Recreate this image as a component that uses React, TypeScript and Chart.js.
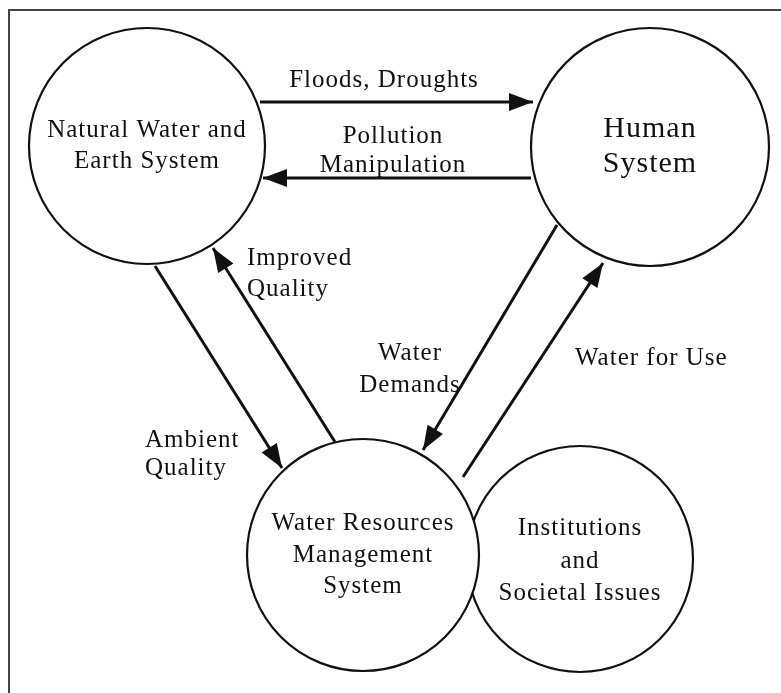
import React, { useEffect, useRef } from "react";
import { Chart, registerables } from "chart.js";

Chart.register(...registerables);

const W = 781;
const H = 693;

// Nodes (circles) — drawn in this order (Institutions first so Water Resources overlaps it)
const nodeNames = [
  "Natural Water and\nEarth System",
  "Human\nSystem",
  "Institutions\nand\nSocietal Issues",
  "Water Resources\nManagement\nSystem",
];
const nodeX = [147, 650, 580, 363];
const nodeY = [146, 147, 559, 555];
const nodeR = [118, 119, 113, 116];
const nodeTextY = [137, 137, 535, 530]; // first baseline
const nodeLineGap = [31, 35, 32.5, 31.5];
const nodeFontSize = [25, 30, 25, 25];

// Flows (arrows): from -> to
const flowNames = [
  "Floods, Droughts",
  "Pollution\nManipulation",
  "Ambient\nQuality",
  "Improved\nQuality",
  "Water\nDemands",
  "Water for Use",
];
const flowFromX = [260, 531, 155, 335, 557, 463];
const flowFromY = [102, 178, 266, 442, 225, 477];
const flowToX = [533, 263, 282, 213, 423, 603];
const flowToY = [102, 178, 468, 248, 450, 263];
const flowLabelX = [384, 393, 145, 247, 410, 575];
const flowLabelY = [87, 143, 447, 265, 360, 365];
const flowLabelAlign = ["center", "center", "left", "left", "center", "left"];
const flowLabelGap = [0, 29, 28, 31, 32, 0];

// Frame (left + top edge)
const frameX = [9, 9, 781];
const frameY = [693, 10, 10];

const FONT = "'Liberation Serif', 'Times New Roman', Times, serif";
const INK = "#111";

const arrowPlugin = {
  id: "arrowHeads",
  afterDatasetsDraw(chart: any) {
    const ctx = chart.ctx;
    chart.data.datasets.forEach((ds: any, i: number) => {
      if (!ds.isArrow) return;
      const meta = chart.getDatasetMeta(i);
      const pts = meta.data;
      if (pts.length < 2) return;
      const a = pts[pts.length - 2];
      const b = pts[pts.length - 1];
      const ang = Math.atan2(b.y - a.y, b.x - a.x);
      const len = 24;
      const half = 9;
      ctx.save();
      ctx.fillStyle = INK;
      ctx.beginPath();
      ctx.moveTo(b.x, b.y);
      const bx = b.x - len * Math.cos(ang);
      const by = b.y - len * Math.sin(ang);
      ctx.lineTo(bx + half * Math.cos(ang + Math.PI / 2), by + half * Math.sin(ang + Math.PI / 2));
      ctx.lineTo(bx - half * Math.cos(ang + Math.PI / 2), by - half * Math.sin(ang + Math.PI / 2));
      ctx.closePath();
      ctx.fill();
      ctx.restore();
    });
  },
};

const textPlugin = {
  id: "diagramText",
  afterDraw(chart: any) {
    const ctx = chart.ctx;
    const xs = chart.scales.x;
    const ys = chart.scales.y;
    const drawLines = (text: string, x: number, y: number, align: string, size: number, gap: number) => {
      ctx.save();
      ctx.fillStyle = INK;
      ctx.font = `${size}px ${FONT}`;
      (ctx as any).letterSpacing = "1px";
      ctx.textBaseline = "alphabetic";
      ctx.textAlign = align;
      text.split("\n").forEach((line, k) => {
        ctx.fillText(line, xs.getPixelForValue(x), ys.getPixelForValue(y + k * gap));
      });
      ctx.restore();
    };
    nodeNames.forEach((n, i) => drawLines(n, nodeX[i], nodeTextY[i], "center", nodeFontSize[i], nodeLineGap[i]));
    flowNames.forEach((n, i) => drawLines(n, flowLabelX[i], flowLabelY[i], flowLabelAlign[i], 25, flowLabelGap[i]));
  },
};

export default function App() {
  const ref = useRef<HTMLCanvasElement | null>(null);
  useEffect(() => {
    document.body.style.margin = "0";
    document.body.style.background = "#fff";
    const canvas = ref.current!;
    const datasets: any[] = [];
    datasets.push({
      type: "line",
      data: frameX.map((x, i) => ({ x, y: frameY[i] })),
      borderColor: "#444",
      borderWidth: 2,
      pointRadius: 0,
      showLine: true,
      fill: false,
      order: 2,
    });
    datasets.push({
      type: "bubble",
      data: nodeX.map((x, i) => ({ x, y: nodeY[i], r: nodeR[i] })),
      backgroundColor: "#fff",
      borderColor: INK,
      borderWidth: 2.2,
      order: 1,
    });
    flowNames.forEach((_, i) => {
      datasets.push({
        type: "line",
        isArrow: true,
        data: [
          { x: flowFromX[i], y: flowFromY[i] },
          { x: flowToX[i], y: flowToY[i] },
        ],
        borderColor: INK,
        borderWidth: 3,
        pointRadius: 0,
        showLine: true,
        fill: false,
        order: 0,
      });
    });
    const chart = new Chart(canvas, {
      type: "bubble",
      data: { datasets },
      options: {
        responsive: false,
        animation: false,
        events: [],
        layout: { padding: 0, autoPadding: false },
        plugins: { legend: { display: false }, tooltip: { enabled: false } },
        scales: {
          x: { type: "linear", min: 0, max: W, display: false },
          y: { type: "linear", min: 0, max: H, reverse: true, display: false },
        },
        clip: false as any,
      } as any,
      plugins: [arrowPlugin, textPlugin],
    });
    return () => chart.destroy();
  }, []);
  return <canvas ref={ref} width={W} height={H} style={{ display: "block", width: W, height: H }} />;
}
